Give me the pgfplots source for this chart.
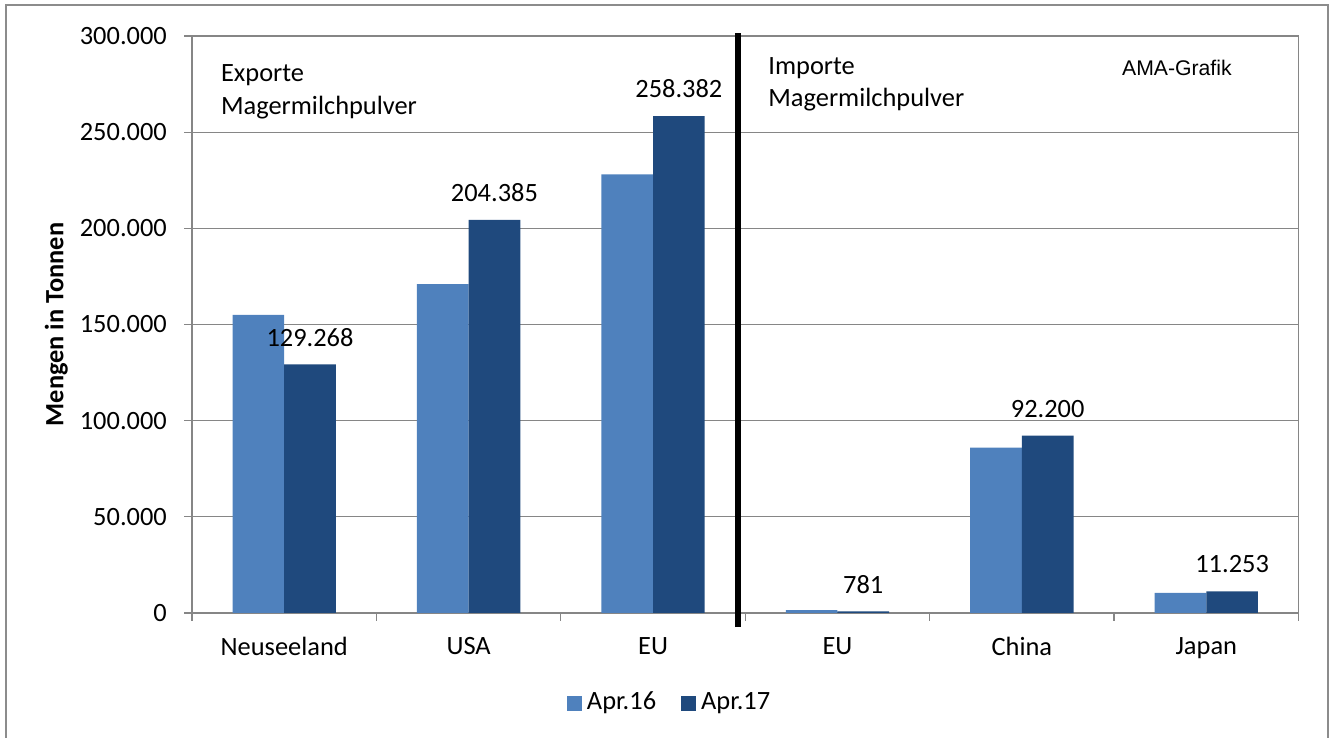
\documentclass[border=0pt]{standalone}
\usepackage{pgfplots}
\pgfplotsset{compat=1.18}
\usepackage{fontspec}
\setmainfont{Carlito}
\newfontfamily\arialfont{Liberation Sans}
\definecolor{c16}{HTML}{4F81BD}
\definecolor{c17}{HTML}{1F497D}
\definecolor{gridgray}{HTML}{868686}
\definecolor{framegray}{HTML}{8C8C8C}

\begin{document}
\fontsize{13.2pt}{16pt}\selectfont
\begin{tikzpicture}
\useasboundingbox (0,0) rectangle (666pt,369pt);
\draw[framegray, line width=1pt] (3pt,-2pt) -- (3pt,366.5pt) -- (664pt,366.5pt) -- (664pt,-2pt);
\begin{axis}[
  at={(96pt,62.5pt)}, anchor=south west,
  scale only axis, width=553.25pt, height=288.5pt,
  ybar=0pt, bar width=0.28,
  xmin=-0.5, xmax=5.5, ymin=0, ymax=300000,
  xtick={-0.5,0.5,...,5.5}, xticklabels={},
  extra x ticks={0,1,2,3,4,5},
  extra x tick labels={Neuseeland,USA,EU,EU,China,Japan},
  extra x tick style={major tick length=0pt, xticklabel style={yshift=-7.5pt}},
  ytick={0,50000,100000,150000,200000,250000,300000},
  scaled y ticks=false,
  yticklabel style={xshift=-4pt, /pgf/number format/.cd, fixed, 1000 sep={.}, assume math mode=true},
  tick align=outside, tick pos=left,
  major tick length=4pt,
  ymajorgrids, grid style={gridgray, line width=0.6pt},
  axis line style={gridgray, line width=0.6pt},
  tick style={gridgray, line width=0.6pt},
  clip=false,
  legend style={at={(0.433,-0.156)}, anchor=center, legend columns=2, draw=none, fill=none,
    /tikz/every even column/.append style={column sep=10pt},
    nodes={inner xsep=2.5pt}},
  legend image code/.code={\fill[#1] (0pt,-3.75pt) rectangle (7.5pt,3.75pt);},
]
\addplot[fill=c16, draw=none] coordinates {(0,155000) (1,171000) (2,228000) (3,1500) (4,86000) (5,10400)};
\addplot[fill=c17, draw=none, nodes near coords,
  nodes near coords style={anchor=center, yshift=13.5pt, text=black,
    /pgf/number format/.cd, fixed, 1000 sep={.}, assume math mode=true}]
  coordinates {(0,129268) (1,204385) (2,258382) (3,781) (4,92200) (5,11253)};
\legend{Apr.16,Apr.17}
\draw[black, line width=3pt] (axis cs:2.461,-7300) -- (axis cs:2.461,301600);
\end{axis}
\node[rotate=90, font=\bfseries, inner sep=0pt] at (28.2pt,206.75pt) {Mengen in Tonnen};
\node[anchor=base west, inner sep=0pt] at (110.35pt,328.15pt) {Exporte};
\node[anchor=base west, inner sep=0pt] at (110.35pt,311.5pt) {Magermilchpulver};
\node[anchor=base west, inner sep=0pt] at (384pt,331.85pt) {Importe};
\node[anchor=base west, inner sep=0pt] at (384pt,315.65pt) {Magermilchpulver};
\node[anchor=base west, inner sep=0pt, font=\arialfont\fontsize{10.6pt}{12pt}\selectfont] at (560.85pt,331pt) {AMA-Grafik};
\end{tikzpicture}
\end{document}
